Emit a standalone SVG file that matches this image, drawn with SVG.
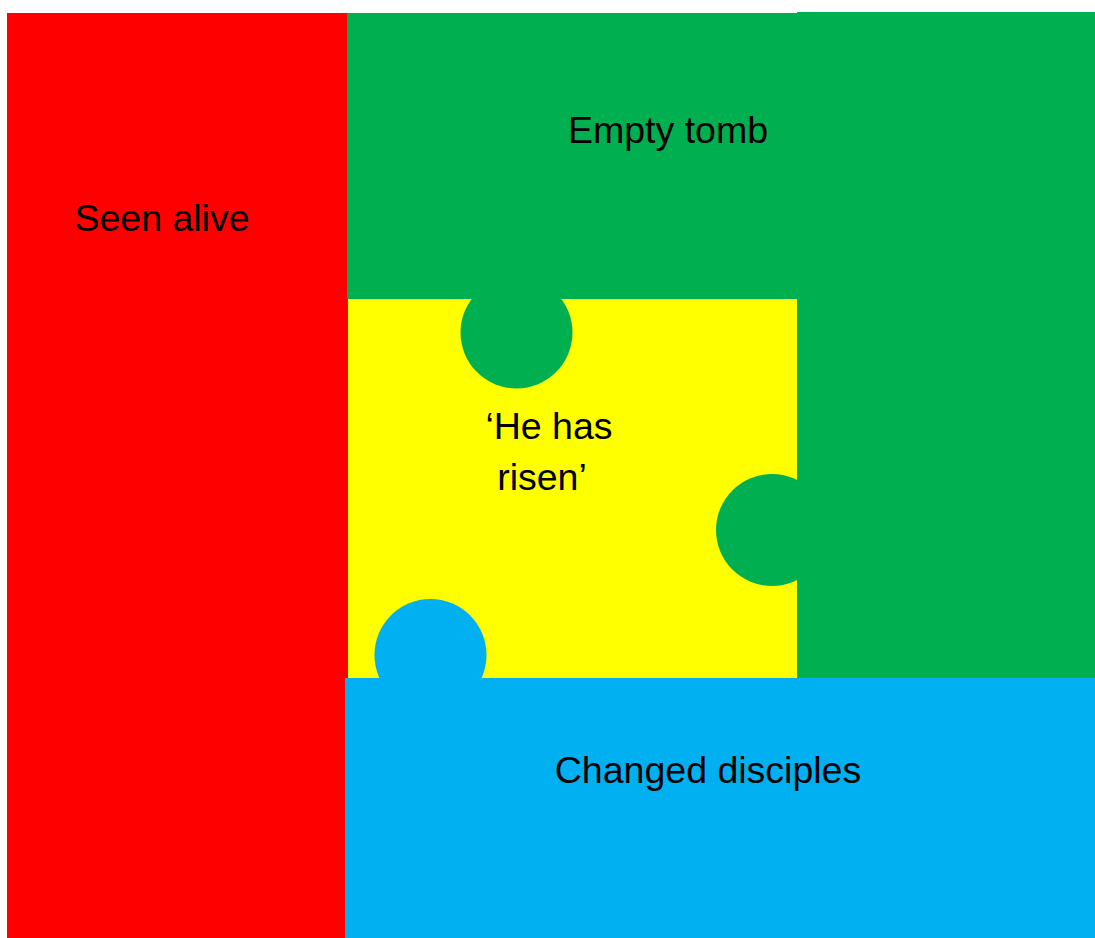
<svg xmlns="http://www.w3.org/2000/svg" width="1095" height="938" viewBox="0 0 1095 938">
<style>
.t{font-family:"Liberation Sans",Arial,sans-serif;font-size:37.5px;fill:#000;text-anchor:middle}
</style>
<rect width="1095" height="938" fill="#fff"/>
<g id="seen-alive">
<rect x="7" y="13" width="341" height="925" fill="#ff0000"/>
<text class="t" x="162" y="231">Seen alive</text>
</g>
<g id="empty-tomb">
<path d="M347 13H797V12H1095V678H797V299H347Z" fill="#00b050"/>
<text class="t" x="668" y="143">Empty tomb</text>
</g>
<g id="he-has-risen">
<rect x="348" y="299" width="449" height="379" fill="#ffff00"/>
<circle cx="516.5" cy="332.5" r="56" fill="#00b050"/>
<circle cx="772" cy="530" r="56" fill="#00b050"/>
<text class="t" x="549" y="439">‘He has</text>
<text class="t" x="542" y="490">risen’</text>
</g>
<g id="changed-disciples">
<rect x="345" y="678" width="750" height="260" fill="#00b0f0"/>
<circle cx="430.5" cy="655" r="56" fill="#00b0f0"/>
<text class="t" x="708" y="783">Changed disciples</text>
</g>
<g id="connectors"/>
</svg>
